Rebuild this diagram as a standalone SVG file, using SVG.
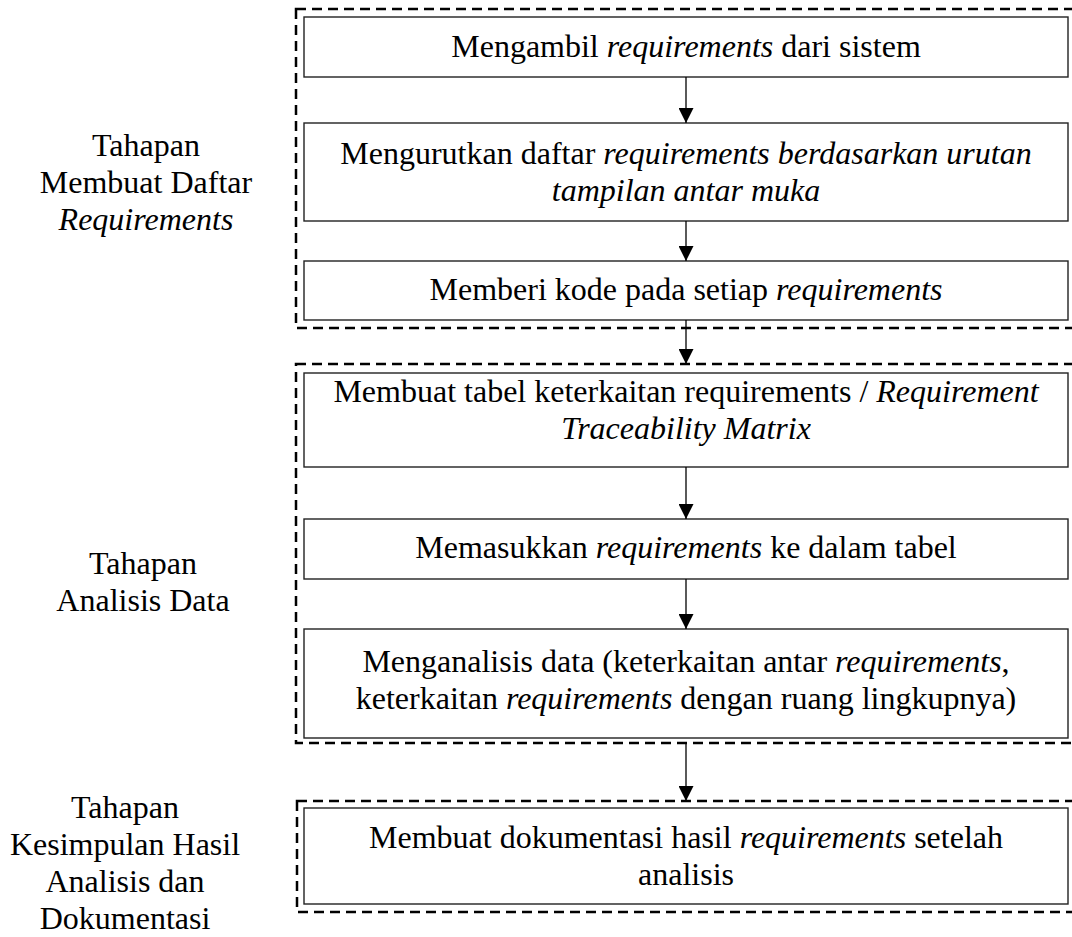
<svg xmlns="http://www.w3.org/2000/svg" width="1072" height="937" viewBox="0 0 1072 937">
<defs>
<style>
text{font-family:"Liberation Serif","Times New Roman",serif;font-size:32px;fill:#000;text-anchor:middle}
.i{font-style:italic}
.box{fill:#fff;stroke:#222;stroke-width:1.4}
.grp{fill:none;stroke:#000;stroke-width:2.5;stroke-dasharray:10 6}
.con{stroke:#000;stroke-width:1.3;fill:none;marker-end:url(#ah)}
</style>
<marker id="ah" viewBox="0 0 10 10" refX="10" refY="5" markerUnits="userSpaceOnUse" markerWidth="15" markerHeight="15" orient="auto">
<path d="M0,0 L10,5 L0,10 z" fill="#000"/>
</marker>
</defs>
<rect width="1072" height="937" fill="#fff"/>
<g id="group1">
<rect class="grp" x="296" y="9" width="790" height="319"/>
<text x="146" y="156">Tahapan</text>
<text x="146" y="193">Membuat Daftar</text>
<text x="146" y="230" class="i">Requirements</text>
</g>
<g id="group2">
<rect class="grp" x="296" y="364" width="790" height="379"/>
<text x="143" y="574">Tahapan</text>
<text x="143" y="611">Analisis Data</text>
</g>
<g id="group3">
<rect class="grp" x="297" y="801" width="790" height="111"/>
<text x="125" y="818">Tahapan</text>
<text x="125" y="855">Kesimpulan Hasil</text>
<text x="125" y="892">Analisis dan</text>
<text x="125" y="929">Dokumentasi</text>
</g>
<g id="n1">
<rect class="box" x="304" y="17" width="764" height="60"/>
<text x="686" y="57">Mengambil <tspan class="i">requirements</tspan> dari sistem</text>
</g>
<g id="n2">
<rect class="box" x="304" y="123" width="764" height="98"/>
<text x="686" y="164">Mengurutkan daftar <tspan class="i">requirements berdasarkan urutan</tspan></text>
<text x="686" y="201" class="i">tampilan antar muka</text>
</g>
<g id="n3">
<rect class="box" x="304" y="261" width="764" height="59"/>
<text x="686" y="300">Memberi kode pada setiap <tspan class="i">requirements</tspan></text>
</g>
<g id="n4">
<rect class="box" x="304" y="373" width="764" height="94"/>
<text x="686" y="402">Membuat tabel keterkaitan requirements / <tspan class="i">Requirement</tspan></text>
<text x="686" y="439" class="i">Traceability Matrix</text>
</g>
<g id="n5">
<rect class="box" x="304" y="519" width="764" height="60"/>
<text x="686" y="558">Memasukkan <tspan class="i">requirements</tspan> ke dalam tabel</text>
</g>
<g id="n6">
<rect class="box" x="304" y="629" width="764" height="109"/>
<text x="686" y="672">Menganalisis data (keterkaitan antar <tspan class="i">requirements</tspan>,</text>
<text x="686" y="709">keterkaitan <tspan class="i">requirements</tspan> dengan ruang lingkupnya)</text>
</g>
<g id="n7">
<rect class="box" x="304" y="808" width="764" height="96"/>
<text x="686" y="848">Membuat dokumentasi hasil <tspan class="i">requirements</tspan> setelah</text>
<text x="686" y="885">analisis</text>
</g>
<g id="connectors">
<line class="con" x1="686" y1="77" x2="686" y2="123"/>
<line class="con" x1="686" y1="221" x2="686" y2="261"/>
<line class="con" x1="686" y1="320" x2="686" y2="364"/>
<line class="con" x1="686" y1="467" x2="686" y2="519"/>
<line class="con" x1="686" y1="579" x2="686" y2="629"/>
<line class="con" x1="686" y1="743" x2="686" y2="801"/>
</g>
</svg>
